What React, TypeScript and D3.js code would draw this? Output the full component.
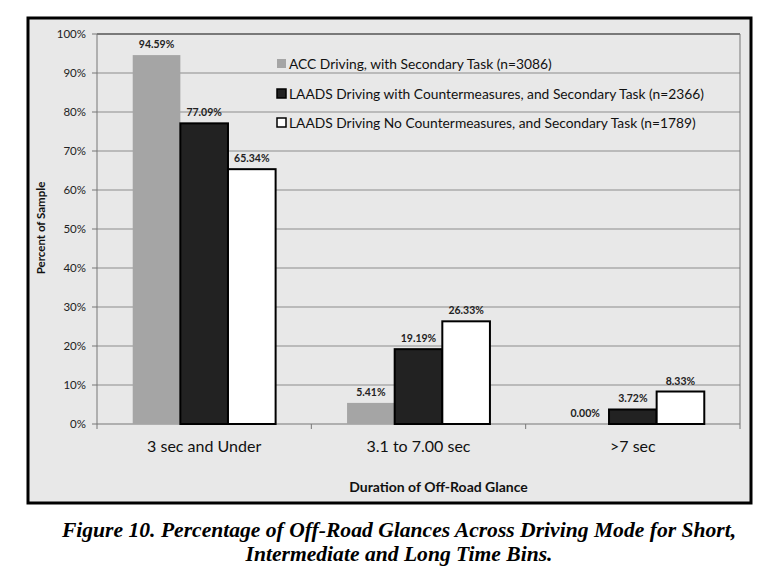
import * as d3 from "d3";
import { useEffect, useRef } from "react";

const categories = ["3 sec and Under", "3.1 to 7.00 sec", ">7 sec"];
const seriesNames = [
  "ACC Driving, with Secondary Task (n=3086)",
  "LAADS Driving with Countermeasures, and Secondary Task (n=2366)",
  "LAADS Driving No Countermeasures, and Secondary Task (n=1789)",
];
const accValues = [94.59, 5.41, 0.0];
const withCmValues = [77.09, 19.19, 3.72];
const noCmValues = [65.34, 26.33, 8.33];
const yTicks = [0, 10, 20, 30, 40, 50, 60, 70, 80, 90, 100];

const fills = ["#a5a5a5", "#222222", "#ffffff"];
const strokes = ["none", "#000", "#000"];

export default function App() {
  const svgRef = useRef<SVGSVGElement | null>(null);
  const width = 766;
  const height = 566;

  useEffect(() => {
    const svg = d3.select(svgRef.current);
    svg.selectAll("*").remove();
    const font = "Lato, 'Open Sans', sans-serif";

    // outer frame
    svg
      .append("rect")
      .attr("x", 28)
      .attr("y", 18)
      .attr("width", 723)
      .attr("height", 485)
      .attr("fill", "#e8e8e8")
      .attr("stroke", "#000")
      .attr("stroke-width", 3);

    const left = 97;
    const right = 740;
    const top = 34;
    const bottom = 424;

    const x = d3.scaleBand().domain(categories).range([left, right]);
    const y = d3.scaleLinear().domain([0, 100]).range([bottom, top]);
    const inner = d3
      .scaleBand<number>()
      .domain([0, 1, 2])
      .range([0, x.bandwidth()])
      .paddingOuter(0.75);

    // gridlines
    svg
      .append("g")
      .selectAll("line")
      .data(yTicks.filter((t) => t > 0))
      .join("line")
      .attr("x1", left)
      .attr("x2", right)
      .attr("y1", (d) => y(d))
      .attr("y2", (d) => y(d))
      .attr("stroke", (d) => (d === 100 ? "#555" : "#8c8c8c"))
      .attr("stroke-width", (d) => (d === 100 ? 1.5 : 1));

    svg
      .append("line")
      .attr("x1", right)
      .attr("x2", right)
      .attr("y1", top)
      .attr("y2", bottom)
      .attr("stroke", "#777");

    // y axis
    const yAxis = svg.append("g");
    yAxis
      .append("line")
      .attr("x1", left)
      .attr("x2", left)
      .attr("y1", top)
      .attr("y2", bottom)
      .attr("stroke", "#777");
    yAxis
      .selectAll("line.tick")
      .data(yTicks)
      .join("line")
      .attr("class", "tick")
      .attr("x1", left - 5)
      .attr("x2", left)
      .attr("y1", (d) => y(d))
      .attr("y2", (d) => y(d))
      .attr("stroke", "#777");
    yAxis
      .selectAll("text")
      .data(yTicks)
      .join("text")
      .attr("x", left - 11)
      .attr("y", (d) => y(d))
      .attr("dy", "0.35em")
      .attr("text-anchor", "end")
      .attr("font-family", font)
      .attr("font-size", 11.5)
      .attr("fill", "#222")
      .text((d) => `${d}%`);

    // x axis
    svg
      .append("line")
      .attr("x1", left)
      .attr("x2", right)
      .attr("y1", bottom)
      .attr("y2", bottom)
      .attr("stroke", "#777");
    svg
      .append("g")
      .selectAll("line")
      .data([...categories.map((c) => x(c)!), right])
      .join("line")
      .attr("x1", (d) => d)
      .attr("x2", (d) => d)
      .attr("y1", bottom)
      .attr("y2", bottom + 5)
      .attr("stroke", "#777");
    svg
      .append("g")
      .selectAll("text")
      .data(categories)
      .join("text")
      .attr("x", (d) => x(d)! + x.bandwidth() / 2)
      .attr("y", 452)
      .attr("text-anchor", "middle")
      .attr("font-family", font)
      .attr("font-size", 16)
      .attr("fill", "#111")
      .text((d) => d);

    // bars
    const series = [accValues, withCmValues, noCmValues];
    series.forEach((vals, si) => {
      const g = svg.append("g");
      g.selectAll("rect")
        .data(vals)
        .join("rect")
        .attr("x", (_, i) => x(categories[i])! + inner(si)!)
        .attr("y", (d) => y(d))
        .attr("width", inner.bandwidth())
        .attr("height", (d) => bottom - y(d))
        .attr("fill", fills[si])
        .attr("stroke", strokes[si])
        .attr("stroke-width", 2);
      g.selectAll("text")
        .data(vals)
        .join("text")
        .attr("x", (_, i) => x(categories[i])! + inner(si)! + inner.bandwidth() / 2)
        .attr("y", (d) => y(d) - 7)
        .attr("text-anchor", "middle")
        .attr("font-family", font)
        .attr("font-size", 10.5)
        .attr("font-weight", "bold")
        .attr("fill", "#222")
        .text((d) => `${d.toFixed(2)}%`);
    });

    // legend
    const legendY = [64, 94, 123];
    const lg = svg.append("g");
    seriesNames.forEach((name, i) => {
      lg.append("rect")
        .attr("x", 277)
        .attr("y", legendY[i] - 5)
        .attr("width", 9)
        .attr("height", 9)
        .attr("fill", fills[i])
        .attr("stroke", strokes[i])
        .attr("stroke-width", 1.5);
      lg.append("text")
        .attr("x", 289)
        .attr("y", legendY[i])
        .attr("dy", "0.35em")
        .attr("font-family", font)
        .attr("font-size", 13.8)
        .attr("fill", "#111")
        .text(name);
    });

    // axis titles
    svg
      .append("text")
      .attr("x", (left + right) / 2 + 20)
      .attr("y", 492)
      .attr("text-anchor", "middle")
      .attr("font-family", font)
      .attr("font-size", 14)
      .attr("font-weight", "bold")
      .attr("fill", "#111")
      .text("Duration of Off-Road Glance");
    svg
      .append("text")
      .attr("transform", `translate(45, 228) rotate(-90)`)
      .attr("text-anchor", "middle")
      .attr("font-family", font)
      .attr("font-size", 11.5)
      .attr("font-weight", "bold")
      .attr("fill", "#111")
      .text("Percent of Sample");

    // caption
    const cap = svg
      .append("text")
      .attr("text-anchor", "middle")
      .attr("font-family", "'Liberation Serif', 'DejaVu Serif', serif")
      .attr("font-size", 21.6)
      .attr("font-weight", "bold")
      .attr("font-style", "italic")
      .attr("fill", "#000");
    cap
      .append("tspan")
      .attr("x", 399)
      .attr("y", 537)
      .text("Figure 10. Percentage of Off-Road Glances Across Driving Mode for Short,");
    cap
      .append("tspan")
      .attr("x", 399)
      .attr("y", 561)
      .text("Intermediate and Long Time Bins.");
  }, []);

  return (
    <div style={{ position: "absolute", left: 0, top: 0 }}>
      <svg ref={svgRef} width={width} height={height} style={{ display: "block" }}></svg>
    </div>
  );
}
